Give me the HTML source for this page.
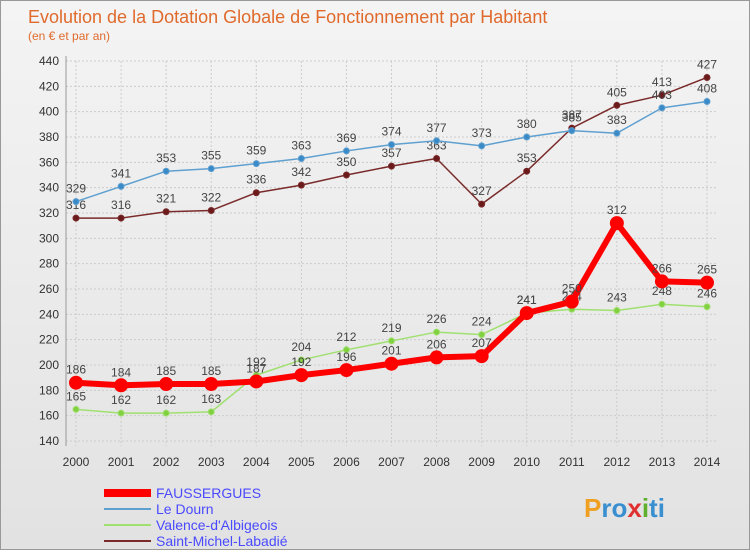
<!DOCTYPE html>
<html><head><meta charset="utf-8"><style>
body{margin:0;width:750px;height:550px;overflow:hidden;font-family:"Liberation Sans",sans-serif}
#wrap{position:relative;width:748px;height:548px;border:1px solid #999;background:linear-gradient(#f4f4f4,#e2e2e2)}
</style></head><body>
<div id="wrap">
<svg id="svg" width="748" height="548" xmlns="http://www.w3.org/2000/svg">
<text x="27" y="22" font-size="18" fill="#e06a2c">Evolution de la Dotation Globale de Fonctionnement par Habitant</text>
<text x="27" y="39" font-size="12" fill="#e06a2c">(en € et par an)</text>
<g id="grid"></g><g id="series"></g>
<g>
<line x1="103" y1="492" x2="150" y2="492" stroke="#f00" stroke-width="8"/>
<text x="155" y="497" font-size="14" fill="#4a4aff">FAUSSERGUES</text>
<line x1="103" y1="508" x2="150" y2="508" stroke="#5fa0d0" stroke-width="2"/>
<text x="155" y="513" font-size="14" fill="#4a4aff">Le Dourn</text>
<line x1="103" y1="524" x2="150" y2="524" stroke="#a0e070" stroke-width="2"/>
<text x="155" y="529" font-size="14" fill="#4a4aff">Valence-d'Albigeois</text>
<line x1="103" y1="540" x2="150" y2="540" stroke="#7a2a2a" stroke-width="2"/>
<text x="155" y="545" font-size="14" fill="#4a4aff">Saint-Michel-Labadié</text>
</g>
<text x="583" y="516" font-size="26" font-weight="bold" fill="#3a8fd0"><tspan fill="#f0a020">P</tspan><tspan fill="#3a8fd0">ro</tspan><tspan fill="#e03030">x</tspan><tspan fill="#60b030">i</tspan><tspan fill="#3a8fd0">ti</tspan></text>
</svg></div>
<script>
const years=[2000,2001,2002,2003,2004,2005,2006,2007,2008,2009,2010,2011,2012,2013,2014];
const yTicks=[140,160,180,200,220,240,260,280,300,320,340,360,380,400,420,440];
const faussergues=[186,184,185,185,187,192,196,201,206,207,241,250,312,266,265];
const leDourn=[329,341,353,355,359,363,369,374,377,373,380,385,383,403,408];
const valence=[165,162,162,163,192,204,212,219,226,224,241,244,243,248,246];
const saintMichel=[316,316,321,322,336,342,350,357,363,327,353,387,405,413,427];
const NS="http://www.w3.org/2000/svg";
const x=i=>75+i*(706-75)/14, y=v=>440-(v-140)*380/300;
function mk(t,a,p){const e=document.createElementNS(NS,t);for(const k in a)e.setAttribute(k,a[k]);p.appendChild(e);return e;}
const g=document.getElementById('grid'), s=document.getElementById('series');
yTicks.forEach(v=>{
 const l=mk('line',{x1:65,x2:715,y1:y(v),y2:y(v),stroke:'#ccc','stroke-dasharray':'2,2'},g);
 
 
 const t=mk('text',{x:58,y:y(v)+4,'font-size':12,fill:'#333','text-anchor':'end'},g);t.textContent=v;
 
 
});
years.forEach((yr,i)=>{
 const l=mk('line',{x1:x(i),x2:x(i),y1:60,y2:445,stroke:'#ccc','stroke-dasharray':'2,2'},g);
 
 
 const t=mk('text',{x:x(i),y:465,'font-size':12,fill:'#333','text-anchor':'middle'},g);t.textContent=yr;
 
 
});
const ax=mk('line',{x1:65,x2:65,y1:55,y2:445,stroke:'#999'},g);


function series(data,name,color,w,r,dot){
 const gr=mk('g',{},s);
 
 
 const p=mk('polyline',{points:data.map((v,i)=>x(i)+','+y(v)).join(' '),fill:'none',stroke:color,'stroke-width':w,'stroke-linejoin':'round'},gr);
 
 
 data.forEach((v,i)=>{
  const c=mk('circle',{cx:x(i),cy:y(v),r:r,fill:dot,stroke:color,'stroke-width':1},gr);
  
  
  const t=mk('text',{x:x(i),y:y(v)-9,'font-size':12,fill:'#444','text-anchor':'middle'},gr);t.textContent=v;
  
  
 });
}
series(saintMichel,'saint-michel','#7a2a2a',1.5,3,'#6a1a1a');
series(leDourn,'le-dourn','#5fa0d0',1.5,3,'#3a8ac8');
series(valence,'valence','#a0e070',1.5,3,'#80d040');
series(faussergues,'faussergues','#f00',6,6.5,'#f00');
</script>
</body></html>
